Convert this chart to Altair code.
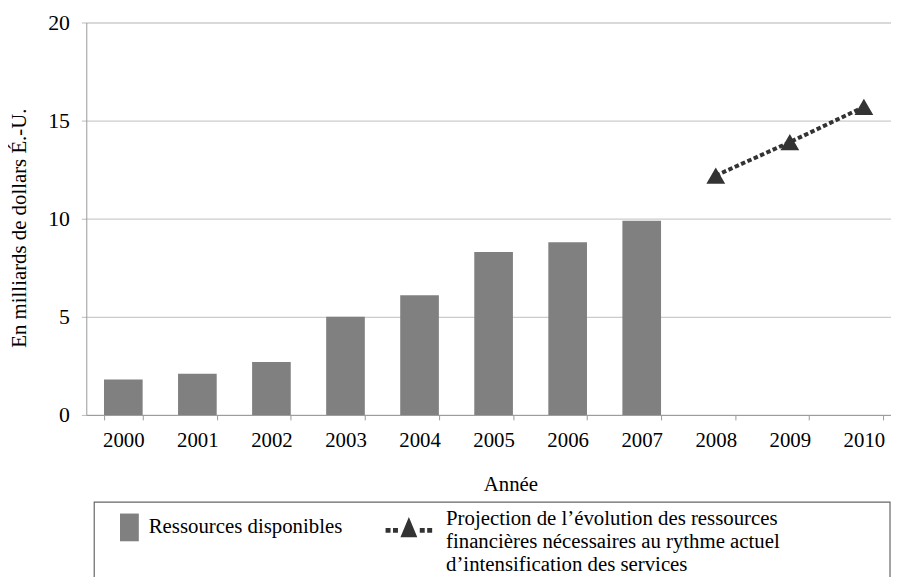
import altair as alt
import pandas as pd

# ---- data ----
years = ["2000", "2001", "2002", "2003", "2004", "2005", "2006", "2007", "2008", "2009", "2010"]
bar_years = ["2000", "2001", "2002", "2003", "2004", "2005", "2006", "2007"]
ressources = [1.8, 2.1, 2.7, 5.0, 6.1, 8.3, 8.8, 9.9]
proj_years = ["2008", "2009", "2010"]
projection = [12.2, 13.9, 15.7]

bar_label = "Ressources disponibles"
proj_lines = [
    "Projection de l\u2019\u00e9volution des ressources",
    "financi\u00e8res n\u00e9cessaires au rythme actuel",
    "d\u2019intensification des services",
]
proj_label = "|".join(proj_lines)

y_title = "En milliards de dollars \u00c9.-U."
x_title = "Ann\u00e9e"
y_ticks = [0, 5, 10, 15, 20]

bars_df = pd.DataFrame({"year": bar_years, "value": ressources, "series": [bar_label] * len(bar_years)})
proj_df = pd.DataFrame({"year": proj_years, "value": projection, "series": [proj_label] * len(proj_years)})

FONT = "'Liberation Serif', 'Times New Roman', Times, serif"

bar_symbol = "M-0.95,-1.4L0.95,-1.4L0.95,1.4L-0.95,1.4Z"
line_symbol = (
    "M-2.35,0.85H-1.85V1.35H-2.35Z "
    "M-1.6,0.85H-1.1V1.35H-1.6Z "
    "M1.1,0.85H1.6V1.35H1.1Z "
    "M1.85,0.85H2.35V1.35H1.85Z "
    "M-0.85,1.8L0,-0.25L0.85,1.8Z"
)

x_enc = alt.X(
    "year:O",
    scale=alt.Scale(domain=years, paddingInner=0.478, paddingOuter=0.239, range=[0, 822]),
    axis=alt.Axis(
        title=x_title,
        labelAngle=0,
        labelFont=FONT,
        labelFontSize=21,
        labelPadding=10,
        labelColor="black",
        tickSize=5,
        tickColor="#999999",
        domainColor="#999999",
        tickBand="extent",
        grid=False,
        titleFont=FONT,
        titleFontSize=21,
        titleFontWeight="normal",
        titleColor="black",
        titleX=428,
        titleY=70,
        titleBaseline="middle",
        titleAlign="center",
    ),
)

y_enc = alt.Y(
    "value:Q",
    scale=alt.Scale(domain=[0, 20], nice=False),
    axis=alt.Axis(
        title=y_title,
        values=y_ticks,
        labelFont=FONT,
        labelFontSize=22,
        labelPadding=12,
        labelColor="black",
        tickSize=5,
        tickColor="#bbbbbb",
        domainColor="#999999",
        grid=True,
        gridColor="#cccccc",
        gridWidth=1.3,
        titleFont=FONT,
        titleFontSize=21,
        titleFontWeight="normal",
        titleColor="black",
        titleX=-67,
        titleY=207,
        titleAngle=270,
        titleBaseline="middle",
        titleAlign="center",
    ),
)

bars = alt.Chart(bars_df).mark_bar().encode(
    x=x_enc,
    y=y_enc,
    color=alt.Color(
        "series:N",
        scale=alt.Scale(domain=[bar_label], range=["#808080"]),
        legend=alt.Legend(
            title=None,
            orient="none",
            legendX=33,
            legendY=499,
            padding=0,
            symbolType=bar_symbol,
            symbolSize=400,
            symbolStrokeWidth=0,
            labelFont=FONT,
            labelFontSize=21,
            labelOffset=9,
            labelLimit=600,
            labelColor="black",
        ),
    ),
)

line = alt.Chart(proj_df).mark_line(color="#333333", strokeWidth=4, strokeDash=[4.5, 2.5]).encode(
    x=alt.X("year:O"),
    y=alt.Y("value:Q"),
)

points = alt.Chart(proj_df).mark_point(shape="triangle-up", filled=True, size=360, opacity=1).encode(
    x=alt.X("year:O"),
    y=alt.Y("value:Q"),
    color=alt.Color(
        "series:N",
        scale=alt.Scale(domain=[proj_label], range=["#333333"]),
        legend=alt.Legend(
            title=None,
            orient="none",
            legendX=315,
            legendY=491,
            padding=0,
            symbolType=line_symbol,
            symbolSize=400,
            symbolStrokeWidth=0,
            symbolOpacity=1,
            labelFont=FONT,
            labelFontSize=21,
            labelOffset=27,
            labelLimit=600,
            labelColor="black",
            labelExpr="split(datum.label, '|')",
        ),
    ),
)

frame = alt.Chart(alt.Data(values=[{}])).mark_rect(
    filled=False, stroke="#666666", strokeWidth=1.2
).encode(
    x=alt.value(8),
    x2=alt.value(811),
    y=alt.value(484),
    y2=alt.value(720),
)

chart = (
    alt.layer(bars, line, points, frame)
    .resolve_scale(color="independent")
    .properties(
        width=812,
        height=396,
        autosize=alt.AutoSizeParams(type="none"),
        padding={"left": 79, "top": 12, "right": 0, "bottom": 170},
    )
    .configure(font=FONT)
    .configure_view(stroke=None)
)

chart.save("out.html", embed_options={"renderer": "svg", "actions": False})
